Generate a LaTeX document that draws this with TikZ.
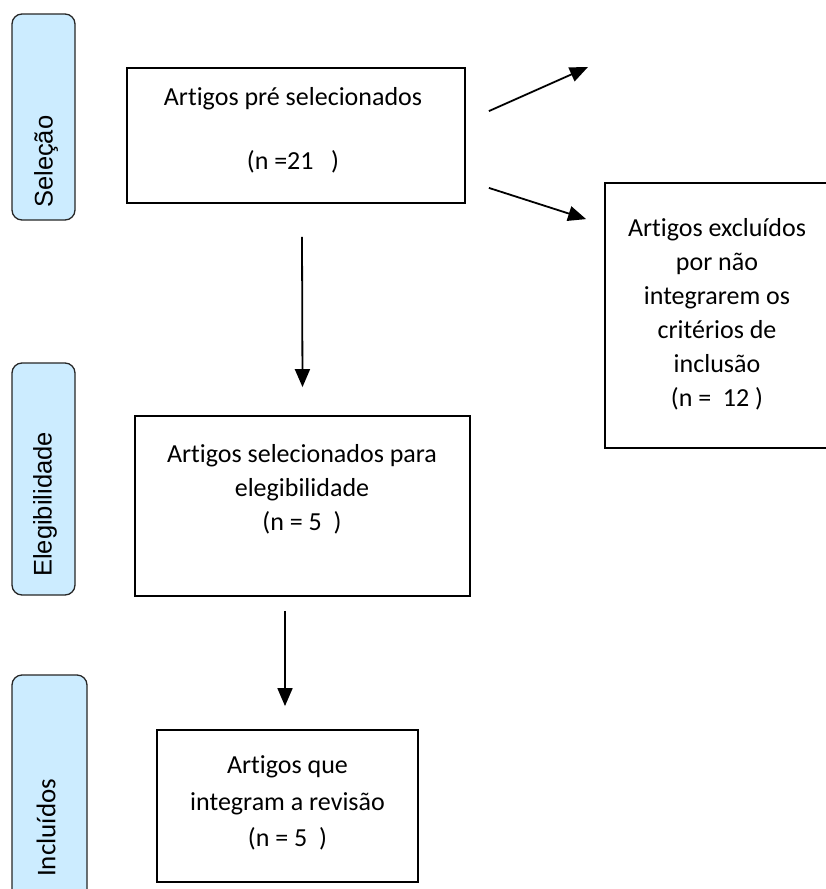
\documentclass[tikz,border=0pt]{standalone}
\usepackage{fontspec}
\setmainfont{Carlito}[Ligatures=NoCommon]
\newfontfamily\arialfont{Liberation Sans}
\usetikzlibrary{arrows.meta}

\tikzset{
    caixa/.style={draw, line width=1.8pt, inner sep=0pt},
    fase/.style={draw=black!85, line width=1.3pt, fill=azulfase, rounded corners=10pt, inner sep=0pt, minimum width=63},
    fasetxt/.style={rotate=90, anchor=west, inner sep=0pt, font=\arialfont\fontsize{25.5}{30}\selectfont},
    texto/.style={align=center, inner sep=0pt, font=\fontsize{26}{34}\selectfont},
    seta/.style={line width=1.8pt, -{Triangle[length=18pt,width=15pt]}}
}
\definecolor{azulfase}{HTML}{CCECFF}

\begin{document}
\begin{tikzpicture}[x=1pt, y=-1pt]
    \useasboundingbox (0,0) rectangle (826,889);

    % Fases
    \node[fase, minimum height=206] (fsel) at (43.5,117) {};
    \node[fasetxt] (tsel) at (46,208) {Seleção};
    \node[fase, minimum height=232] (fele) at (43.5,479) {};
    \node[fasetxt] (tele) at (45,577) {Elegibilidade};
    \node[fase, minimum width=75, minimum height=225] (finc) at (49.5,787.5) {};
    \node[fasetxt, font=\fontsize{27}{30}\selectfont] (tinc) at (46,877) {Incluídos};

    % Caixas
    \node[caixa, minimum width=338, minimum height=135] (b1) at (296,135.5) {};
    \node[caixa, minimum width=235, minimum height=265] (bexc) at (722.5,315.5) {};
    \node[caixa, minimum width=335, minimum height=180] (b2) at (302.5,506) {};
    \node[caixa, minimum width=261, minimum height=152] (b3) at (287.5,806) {};

    % Textos
    \node[texto] (t1) at (293,130) {Artigos pré selecionados\\[30pt] (n =21~~~)};
    \node[texto] (texc) at (717,314) {Artigos excluídos\\por não\\integrarem os\\critérios de\\inclusão\\(n =~~12 )};
    \node[texto] (t2) at (302,489) {Artigos selecionados para\\elegibilidade\\(n = 5~~)};
    \node[texto, font=\fontsize{26}{36.5}\selectfont] (t3) at (287.5,803) {Artigos que\\integram a revisão\\(n = 5~~)};

    % Setas
    \coordinate (livre) at ([shift={(122,0)}]b1.north east);
    \draw[seta] ([shift={(23,44)}]b1.north east) -- (livre);
    \draw[seta] ([shift={(23,-16)}]b1.south east) -- ([shift={(-18,37)}]bexc.north west);
    \draw[seta] ([shift={(6,33)}]b1.south) -- ([shift={(0,-28)}]b2.north);
    \draw[seta] ([shift={(-17.5,14)}]b2.south) -- ([shift={(-2.5,-23)}]b3.north);
\end{tikzpicture}
\end{document}
